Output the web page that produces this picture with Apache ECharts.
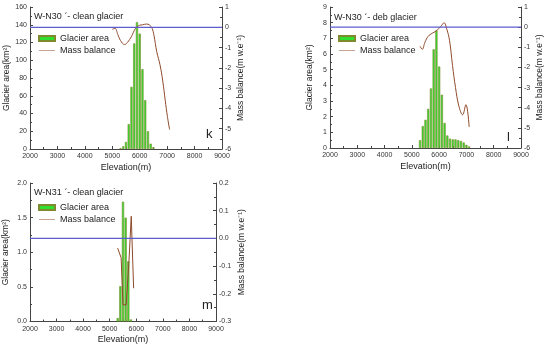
<!DOCTYPE html>
<html><head><meta charset="utf-8">
<script src="https://cdn.jsdelivr.net/npm/echarts@6/dist/echarts.min.js"></script>
<style>html,body{margin:0;padding:0;background:#fff}#c{width:550px;height:348px}</style>
</head><body><div id="c"></div>
<script>
// Panel k: W-N30 clean glacier
const kElev = [5300,5400,5500,5600,5700,5800,5900,6000,6100,6200,6300,6400,6500];
const kArea = [1,3,8,28,70,119,143,130,90,55,20,6,2];
const kMbElev = [5000,5100,5200,5300,5450,5550,5700,5850,6000,6100,6250,6350,6450,6520,6620,6740,6840,6930,7010,7090];
const kMb = [-0.10,-0.05,-0.35,-0.65,-0.85,-0.75,-0.45,-0.05,0.10,0.12,0.16,0.12,-0.05,-0.4,-1.2,-1.85,-2.65,-3.6,-4.4,-5.05];
// Panel l: W-N30 debris glacier
const lElev = [5300,5400,5500,5600,5700,5800,5900,6000,6100,6200,6300,6400,6500,6600,6700,6800,6900,7000,7100];
const lArea = [0.5,1.4,1.8,2.5,3.8,6.3,7.5,5.2,3.4,1.6,0.8,0.6,0.55,0.55,0.5,0.45,0.35,0.2,0.1];
const lMbElev = [5300,5380,5480,5600,5750,5880,6000,6100,6180,6280,6380,6490,6600,6720,6860,6980,7100];
const lMb = [-0.95,-1.1,-0.75,-0.45,-0.3,-0.2,-0.05,0.1,0.22,-0.1,-0.65,-1.9,-3.0,-3.9,-4.35,-3.85,-4.95];
// Panel m: W-N31 clean glacier
const mElev = [5300,5400,5500,5600,5700,5800];
const mArea = [0.05,0.51,1.73,1.5,0.87,0.03];
const mMbElev = [5300,5430,5500,5620,5720,5810,5900];
const mMb = [-0.035,-0.07,-0.24,-0.24,-0.09,0.08,-0.18];
const xTicks = [2000,3000,4000,5000,6000,7000,8000,9000];
const zeroMb = 0;
const titles = ["W-N30 ˊ- clean glacier","W-N30 ˊ- deb glacier","W-N31 ˊ- clean glacier"];
const letters = ["k","l","m"];

const F = 'Liberation Sans, Arial, sans-serif';
const axisCol = '#444';
const barCol = '#2fe02f', barEdge = '#7f8a2e', mbCol = '#8e4a2a', zeroCol = '#5c5cd0';
const zip = (a,b) => a.map((v,i)=>[v,b[i]]);

const grids = [
  {left:30, top:7, width:192, height:142},
  {left:330, top:7, width:191, height:141},
  {left:30, top:183, width:186, height:138.5}
];
function xAx(i){
  return {type:'value', gridIndex:i, min:xTicks[0], max:xTicks[xTicks.length-1], interval:1000,
    name:'Elevation(m)', nameLocation:'middle', nameGap:14,
    nameTextStyle:{fontFamily:F, fontSize:9, color:'#222'},
    axisLine:{onZero:false, lineStyle:{color:axisCol, width:1}},
    axisTick:{inside:true, length:3, lineStyle:{color:axisCol}},
    minorTick:{show:true, splitNumber:2, length:2, lineStyle:{color:axisCol}},
    axisLabel:{fontFamily:F, fontSize:7, color:'#333', margin:4, formatter: v => String(v)},
    splitLine:{show:false}};
}
function yAx(i, pos, min, max, interval, name, gap, dec){
  return {type:'value', gridIndex:i, position:pos, min:min, max:max, interval:interval,
    name:name, nameLocation:'middle', nameGap:gap, nameRotate:90,
    nameTextStyle:{fontFamily:F, fontSize:8.5, color:'#222'},
    axisLine:{show:true, onZero:false, lineStyle:{color:axisCol, width:1}},
    axisTick:{show:true, inside:true, length:3, lineStyle:{color:axisCol}},
    minorTick:{show:true, splitNumber:2, length:2, lineStyle:{color:axisCol}},
    axisLabel:{fontFamily:F, fontSize:7, color:'#333', margin:3,
      formatter: v => dec ? v.toFixed(dec) : String(Math.round(v))},
    splitLine:{show:false}};
}
const yAxes = [
  yAx(0,'left',0,160,20,'Glacier area(km²)',19,0),
  yAx(0,'right',-6,1,1,'Mass balance(m w.e⁻¹)',14,0),
  yAx(1,'left',0,9,1,'Glacier area(km²)',16,0),
  yAx(1,'right',-6,1,1,'Mass balance(m w.e⁻¹)',14,0),
  yAx(2,'left',0,2,0.5,'Glacier area(km²)',20,1),
  yAx(2,'right',-0.3,0.2,0.1,'Mass balance(m w.e⁻¹)',21,1)
];
function barS(i, ex, ar){
  return {name:'Glacier area', type:'bar', xAxisIndex:i, yAxisIndex:2*i, data:zip(ex,ar),
    barWidth:2.2, itemStyle:{color:barCol, borderColor:barEdge, borderWidth:0.6}, animation:false};
}
function zeroS(i){
  return {name:'zero', type:'line', xAxisIndex:i, yAxisIndex:2*i+1,
    data:[[xTicks[0],zeroMb],[xTicks[xTicks.length-1],zeroMb]], symbol:'none', silent:true,
    lineStyle:{color:zeroCol, width:1.2}, itemStyle:{color:zeroCol}, z:4, animation:false};
}
function lineS(i, ex, mb, smooth){
  return {name:'Mass balance', type:'line', xAxisIndex:i, yAxisIndex:2*i+1, data:zip(ex,mb),
    symbol:'none', smooth:smooth, lineStyle:{color:mbCol, width:1}, itemStyle:{color:mbCol},
    animation:false, z:3};
}
const legPos = [{left:33, top:29},{left:333, top:29},{left:33, top:198}];
const legends = legPos.map(p => ({left:p.left, top:p.top, orient:'vertical', itemWidth:16, itemHeight:5, itemGap:3,
  textStyle:{fontFamily:F, fontSize:9, color:'#222'}, selectedMode:false,
  data:[{name:'Glacier area', icon:'rect'},
        {name:'Mass balance', icon:'path://M0,0 L32,0 L32,1 L0,1 Z', itemStyle:{color:mbCol}}]}));
const titlePos = [[34,18],[334,19],[34,194]];
const letterPos = [[206,136],[507,139],[202,307]];
const graphics = [];
titles.forEach((t,i)=>graphics.push({type:'text', left:titlePos[i][0], top:titlePos[i][1]-6,
  style:{text:t, font:'9px '+F, fill:'#222'}}));
letters.forEach((t,i)=>graphics.push({type:'text', left:letterPos[i][0], top:letterPos[i][1]-8,
  style:{text:t, font:'13px '+F, fill:'#222'}}));

const chart = echarts.init(document.getElementById('c'), null, {renderer:'canvas'});
chart.setOption({
  animation:false,
  grid:grids,
  xAxis:[xAx(0),xAx(1),xAx(2)],
  yAxis:yAxes,
  legend:legends,
  graphic:graphics,
  series:[
    barS(0,kElev,kArea), lineS(0,kMbElev,kMb,0.4), zeroS(0),
    barS(1,lElev,lArea), lineS(1,lMbElev,lMb,0.4), zeroS(1),
    barS(2,mElev,mArea), lineS(2,mMbElev,mMb,false), zeroS(2)
  ]
});
</script></body></html>
